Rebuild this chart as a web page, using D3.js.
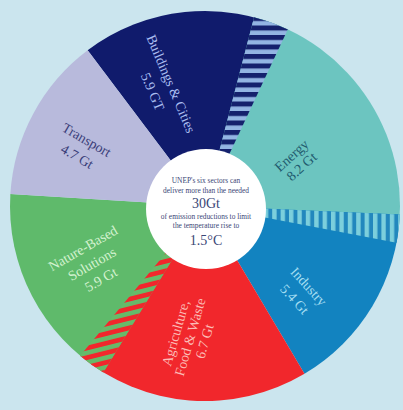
<!DOCTYPE html>
<html>
<head>
<meta charset="utf-8">
<script src="https://cdn.jsdelivr.net/npm/d3@7"></script>
<style>
  html, body { margin: 0; padding: 0; background: #cbe5ee; }
  svg { display: block; }
</style>
</head>
<body>
<svg id="chart" width="403" height="410"></svg>
<script>
// Mitigation potential by sector (Gt CO2e per year)
const sectors = ["Buildings & Cities", "Energy", "Industry", "Agriculture, Food & Waste", "Nature-Based Solutions", "Transport"];
const potentials = [5.9, 8.2, 5.4, 6.7, 5.9, 4.7];
// Potential shared with the preceding sector (drawn as a striped band)
const sharedWithPrevious = [0, 1.0, 0.8, 0, 0.8, 0];
const nameLines = [["Buildings & Cities"], ["Energy"], ["Industry"], ["Agriculture,", "Food & Waste"], ["Nature-Based", "Solutions"], ["Transport"]];
const valueLabels = ["5.9 GT", "8.2 Gt", "5.4 Gt", "6.7 Gt", "5.9 Gt", "4.7 Gt"];
const centreLines = ["UNEP's six sectors can", "deliver more than the needed", "30Gt", "of emission reductions to limit", "the temperature rise to", "1.5°C"];

const colors = ["#101b6c", "#6cc5c0", "#1283c0", "#f1272c", "#5fba6b", "#b8badc"];
const textColors = ["#a9bdf0", "#1f5a6e", "#a3def2", "#fcbcb6", "#d4f2d0", "#3b3f7a"];

const svg = d3.select("#chart");
const cx = 205, cy = 206, R = 195;
const deg = Math.PI / 180;
const start = -37 * deg;

const total = d3.sum(potentials) - d3.sum(sharedWithPrevious);
const angle = d3.scaleLinear().domain([0, total]).range([start, start + 2 * Math.PI]);

// Lay the sectors round the circle; neighbours overlap by their shared potential
let cursor = 0;
const slices = potentials.map((v, i) => {
  const s = cursor - sharedWithPrevious[i];
  const e = s + v;
  cursor = e;
  return { i, s, e };
});

const arc = d3.arc().innerRadius(0).outerRadius(R);

// Stripe patterns for the shared bands
const defs = svg.append("defs");
const stripes = [
  null,
  { bg: "#93b5e3", fg: "#15216d", size: 9.5, band: 5, rot: 0 },
  { bg: "#7ccfdc", fg: "#2287bd", size: 8.4, band: 4, rot: 90 },
  null,
  { bg: "#f1272c", fg: "#66bb6a", size: 9.3, band: 4.6, rot: -14 },
  null
];
stripes.forEach((p, i) => {
  if (!p) return;
  const pat = defs.append("pattern")
    .attr("id", "shared-" + i)
    .attr("patternUnits", "userSpaceOnUse")
    .attr("width", 40).attr("height", p.size)
    .attr("patternTransform", `rotate(${p.rot})`);
  pat.append("rect").attr("width", 40).attr("height", p.size).attr("fill", p.bg);
  pat.append("rect").attr("width", 40).attr("height", p.band).attr("fill", p.fg);
});

const g = svg.append("g").attr("transform", `translate(${cx},${cy})`);

g.selectAll("path.slice")
  .data(slices)
  .join("path")
  .attr("class", "slice")
  .attr("d", d => arc({ startAngle: angle(d.s), endAngle: angle(d.e) }))
  .attr("fill", d => colors[d.i]);

const bands = slices.filter(d => sharedWithPrevious[d.i] > 0)
  .map(d => ({ i: d.i, s: d.s, e: slices[d.i - 1].e }));

g.selectAll("path.band")
  .data(bands)
  .join("path")
  .attr("class", "band")
  .attr("d", d => arc({ startAngle: angle(d.s), endAngle: angle(d.e) }))
  .attr("fill", d => `url(#shared-${d.i})`);

// Sector labels: offset from the slice mid-angle, radius, rotation
const labelLayout = [
  { da: -14, r: 126, rot: 67, gap: 20 },
  { da: 6, r: 102, rot: -42, gap: 15 },
  { da: 11, r: 130, rot: 48, gap: 19 },
  { da: 2, r: 132, rot: -74, gap: 15 },
  { da: 0.5, r: 127, rot: -30, gap: 18 },
  { da: -3, r: 136, rot: 30, gap: 19 }
];

slices.forEach(d => {
  const L = labelLayout[d.i];
  const a = (angle(d.s) + angle(d.e)) / 2 + L.da * deg;
  const x = Math.sin(a) * L.r, y = -Math.cos(a) * L.r;
  const lines = nameLines[d.i].concat([valueLabels[d.i]]);
  const n = lines.length;
  const t = g.append("g").attr("transform", `translate(${x},${y}) rotate(${L.rot})`);
  t.selectAll("text")
    .data(lines)
    .join("text")
    .attr("x", 0)
    .attr("y", (l, k) => (k - (n - 1) / 2) * L.gap)
    .attr("dy", "0.35em")
    .attr("text-anchor", "middle")
    .attr("font-family", "'Liberation Serif', 'DejaVu Serif', serif")
    .attr("font-size", 14)
    .attr("fill", textColors[d.i])
    .text(l => l);
});

// Centre disc and message
const c = svg.append("g").attr("transform", `translate(${cx + 1},${cy + 3})`);
c.append("circle").attr("r", 60).attr("fill", "#ffffff");
const centreY = [-29, -19, -6, 7, 16, 31];
const centreSize = [7.4, 7.4, 14, 7.4, 7.4, 14];
c.selectAll("text")
  .data(centreLines)
  .join("text")
  .attr("x", 0)
  .attr("y", (l, k) => centreY[k])
  .attr("dy", "0.35em")
  .attr("text-anchor", "middle")
  .attr("font-family", "'Liberation Serif', 'DejaVu Serif', serif")
  .attr("font-size", (l, k) => centreSize[k])
  .attr("fill", "#3a4676")
  .text(l => l);
</script>
</body>
</html>
